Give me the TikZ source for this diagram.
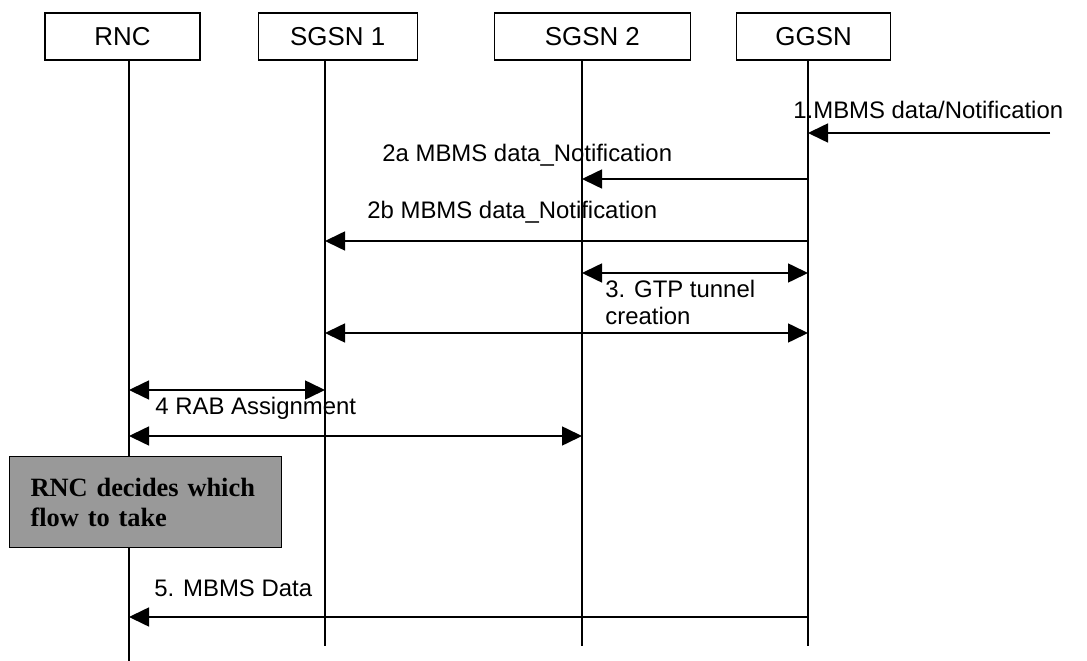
\documentclass[tikz,border=0pt]{standalone}
\usepackage{fontspec}
\setmainfont{Liberation Sans}
\newfontfamily\notefont{Liberation Serif}
\usetikzlibrary{arrows.meta,positioning}
\definecolor{notegrey}{RGB}{153,153,153}

\begin{document}
\begin{tikzpicture}[x=0.5bp,y=-0.5bp,
  every node/.style={font=\fontsize{12}{14}\selectfont},
  ent/.style={draw,line width=0.6bp,minimum height=23.5bp,inner sep=0pt,
              font=\fontsize{13}{15}\selectfont},
  life/.style={line width=0.6bp},
  msg/.style={-{Triangle[length=10bp,width=9.5bp]},line width=0.8bp},
  both/.style={{Triangle[length=10bp,width=9.5bp]}-{Triangle[length=10bp,width=9.5bp]},line width=0.8bp},
  lbl/.style={anchor=base west,inner sep=0pt,align=left},
  note/.style={draw,fill=notegrey,line width=0.6bp,anchor=north west,
               minimum width=136bp,minimum height=45.5bp,inner xsep=10.5bp,text width=115bp,
               align=left,font=\notefont\bfseries\fontsize{13.25}{15}\selectfont}]
\useasboundingbox (0,0) rectangle (1087,661);
\node[ent,minimum width=77.5bp] (rnc) at (122.5,36.5) {RNC};
\node[ent,minimum width=79.5bp,right=28.5bp of rnc] (sg1) {SGSN 1};
\node[ent,minimum width=98bp,right=38bp of sg1] (sg2) {SGSN 2};
\node[ent,minimum width=77bp,right=22.5bp of sg2] (gg) {GGSN};
\coordinate (lr) at (129,60); \coordinate (lrB) at (129,661);
\coordinate (l1) at (325,60); \coordinate (l1B) at (325,646);
\coordinate (l2) at (582,60); \coordinate (l2B) at (582,646);
\coordinate (lg) at (808,60); \coordinate (lgB) at (808,646);
\draw[life] (lr)--(lrB); \draw[life] (l1)--(l1B);
\draw[life] (l2)--(l2B); \draw[life] (lg)--(lgB);
\coordinate (in1) at (1050,133);
\draw[msg] (in1)--(lg |- in1);
\draw[msg] (lg |- 0,179)--(l2 |- 0,179);
\draw[msg] (lg |- 0,241)--(l1 |- 0,241);
\draw[both] (l2 |- 0,273)--(lg |- 0,273);
\draw[both] (l1 |- 0,333)--(lg |- 0,333);
\draw[both] (lr |- 0,390)--(l1 |- 0,390);
\draw[both] (lr |- 0,436)--(l2 |- 0,436);
\draw[msg] (lg |- 0,617)--(lr |- 0,617);
\node[lbl] (t1) at (793,119) {1.MBMS data/Notification};
\node[lbl] (t2a) at (382,162) {2a MBMS data\_Notification};
\node[lbl] (t2b) at (367,219) {2b MBMS data\_Notification};
\node[lbl] (t3) at (605,325) {3. GTP tunnel\\creation};
\node[lbl] (t4) at (155,415) {4 RAB Assignment};
\node[note] (dec) at (9,456) {RNC decides which\\flow to take};
\node[lbl] (t5) at (154,596) {5. MBMS Data};
\end{tikzpicture}
\end{document}
